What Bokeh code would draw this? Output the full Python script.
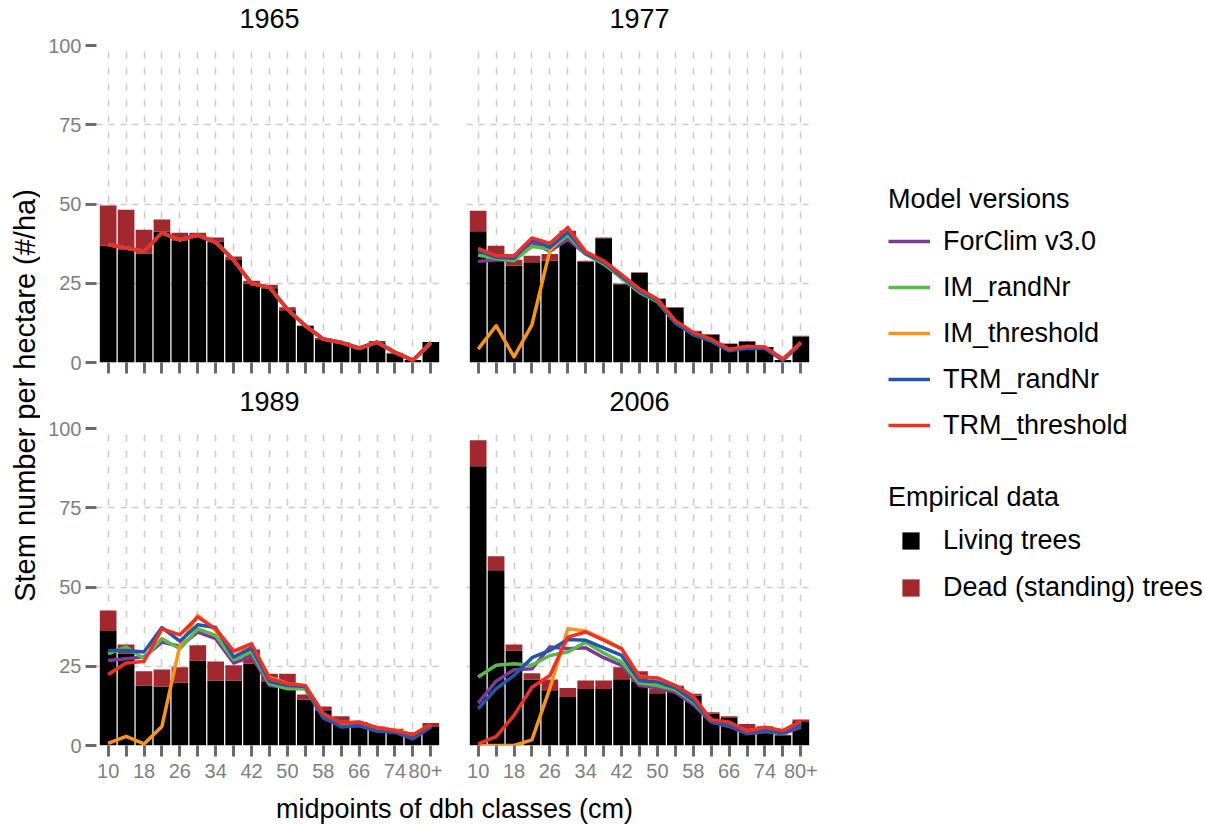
from math import pi

from bokeh.embed import file_html
from bokeh.layouts import column, row
from bokeh.models import (ColumnDataSource, FixedTicker, Label, Legend,
                          LegendItem, Range1d)
from bokeh.plotting import figure
from bokeh.resources import INLINE

FONT = "Liberation Sans"

# dbh classes (cm), every second one labelled on the axis
classes = ["10", "14", "18", "22", "26", "30", "34", "38", "42", "46",
           "50", "54", "58", "62", "66", "70", "74", "78", "80+"]
positions = list(range(len(classes)))
tick_labels = {i: c for i, c in enumerate(classes) if i % 2 == 0}

years = ["1965", "1977", "1989", "2006"]

# Empirical stem numbers (#/ha): living and dead (standing) trees
living_1965 = [36.8, 35.5, 34.4, 41.3, 38.6, 39.5, 38.2, 32.3, 24.9, 23.4,
               16.5, 11.5, 7.3, 6.2, 4.7, 6.4, 2.8, 0.8, 6.5]
dead_1965 = [12.7, 12.7, 7.5, 3.8, 2.3, 1.4, 1.2, 1.1, 0.9, 1.1,
             0.9, 0.2, 0.4, 0.3, 0.0, 0.4, 0.3, 0.0, 0.0]
living_1977 = [41.4, 33.5, 30.5, 31.6, 32.1, 39.5, 31.9, 39.2, 24.7, 28.3,
               20.0, 17.2, 9.8, 8.7, 5.8, 6.6, 4.9, 0.8, 8.2]
dead_1977 = [6.5, 3.3, 1.9, 2.1, 2.1, 2.1, 0.2, 0.2, 0.2, 0.2,
             0.2, 0.2, 0.2, 0.2, 0.2, 0.2, 0.0, 0.0, 0.2]
living_1989 = [36.1, 29.0, 18.9, 18.6, 19.9, 26.8, 20.5, 20.5, 25.8, 20.0,
               19.5, 14.4, 11.1, 7.9, 7.1, 5.3, 4.9, 3.2, 5.8]
dead_1989 = [6.5, 2.9, 4.5, 5.4, 4.8, 4.8, 6.0, 4.8, 4.5, 2.6,
             3.1, 1.7, 1.2, 1.3, 0.3, 0.7, 0.4, 1.0, 1.3]
living_2006 = [88.1, 55.3, 30.0, 20.8, 17.4, 15.3, 17.8, 17.8, 20.9, 20.0,
               16.5, 18.6, 15.8, 10.0, 8.7, 5.3, 5.6, 3.2, 7.4]
dead_2006 = [8.2, 4.4, 1.9, 2.0, 3.4, 2.8, 2.7, 2.7, 3.8, 3.4,
             1.4, 0.3, 0.5, 0.5, 0.5, 1.5, 0.5, 0.2, 0.8]

# Simulated stem numbers per model version
start_1965 = [37.2, 36.1, 35.1, 40.9, 38.7, 40.2, 37.9, 32.3, 24.9, 23.7,
              16.8, 11.6, 7.4, 6.3, 4.5, 6.4, 3.2, 0.7, 6.2]

forclim_1977 = [31.9, 32.3, 32.4, 37.9, 35.1, 38.9, 34.2, 31.1, 26.6, 22.4,
                19.3, 12.6, 8.9, 7.1, 4.0, 4.7, 4.7, 0.8, 6.1]
im_rand_1977 = [33.9, 32.8, 32.1, 36.6, 35.8, 40.2, 34.2, 31.1, 26.8, 22.1,
                19.2, 12.6, 8.9, 6.8, 3.9, 4.7, 4.7, 0.8, 6.1]
im_thr_1977 = [4.2, 11.6, 1.8, 11.9, 35.3, 41.6, 34.7, 31.9, 27.5, 23.0,
               19.8, 13.0, 9.2, 7.2, 4.0, 4.9, 4.8, 0.9, 6.2]
trm_rand_1977 = [35.3, 33.2, 32.9, 38.9, 36.3, 41.1, 34.4, 31.6, 27.2, 22.6,
                 19.5, 12.6, 8.7, 6.8, 3.7, 4.5, 4.4, 0.7, 6.0]
trm_thr_1977 = [36.0, 33.7, 33.7, 39.3, 37.6, 42.6, 34.9, 32.1, 27.7, 23.2,
                20.0, 13.2, 9.5, 7.4, 4.2, 5.1, 4.9, 1.1, 6.3]

forclim_1989 = [26.8, 27.4, 27.9, 32.6, 31.3, 35.8, 33.7, 26.0, 28.1, 18.9,
                18.4, 17.9, 8.7, 6.0, 6.3, 4.7, 4.2, 2.1, 5.8]
im_rand_1989 = [28.9, 31.1, 27.4, 33.7, 30.5, 36.8, 34.7, 27.1, 29.5, 19.5,
                17.9, 17.9, 9.5, 6.3, 6.6, 4.7, 4.4, 2.6, 6.3]
im_thr_1989 = [0.7, 2.9, 0.5, 6.0, 31.6, 41.1, 36.3, 29.5, 31.6, 21.5,
               19.6, 18.8, 10.0, 7.0, 7.3, 5.6, 4.9, 3.3, 6.5]
trm_rand_1989 = [30.0, 30.0, 29.5, 37.2, 32.9, 38.1, 37.2, 27.9, 30.8, 20.2,
                 18.9, 18.6, 9.2, 5.8, 6.3, 4.5, 4.2, 2.3, 6.0]
trm_thr_1989 = [22.4, 26.0, 26.5, 36.8, 34.9, 40.5, 36.8, 29.8, 32.1, 21.1,
                19.5, 18.9, 10.0, 7.1, 7.4, 5.6, 4.7, 3.4, 6.6]

forclim_2006 = [13.4, 20.3, 23.9, 24.2, 31.1, 30.5, 30.8, 27.7, 25.3, 18.9,
                18.2, 16.8, 12.9, 7.4, 6.0, 3.7, 4.4, 3.7, 5.8]
im_rand_2006 = [21.6, 25.3, 25.8, 25.3, 28.4, 29.5, 32.6, 29.2, 26.3, 19.7,
                18.9, 17.6, 13.7, 7.7, 6.8, 4.2, 4.7, 3.9, 6.8]
im_thr_2006 = [0.0, 0.0, 0.0, 1.8, 18.0, 36.8, 36.1, 33.6, 30.6, 21.8,
               21.0, 18.9, 15.0, 8.0, 7.2, 4.5, 5.6, 4.6, 7.5]
trm_rand_2006 = [11.6, 17.9, 22.1, 27.7, 30.0, 33.4, 33.2, 30.8, 28.4, 20.5,
                 20.0, 18.2, 14.2, 7.6, 6.3, 3.9, 4.7, 3.9, 6.6]
trm_thr_2006 = [0.5, 2.8, 9.5, 18.4, 22.1, 34.2, 35.8, 33.2, 30.5, 21.6,
                21.3, 18.9, 15.5, 8.1, 7.4, 4.5, 5.8, 4.7, 7.7]

model_names = ["ForClim v3.0", "IM_randNr", "IM_threshold", "TRM_randNr",
               "TRM_threshold"]
model_colors = ["#7B3A96", "#5DB84A", "#F7941D", "#2356A6", "#EE3027"]
empirical_names = ["Living trees", "Dead (standing) trees"]
LIVING_COLOR = "#000000"
DEAD_COLOR = "#A1282E"

living = {"1965": living_1965, "1977": living_1977,
          "1989": living_1989, "2006": living_2006}
dead = {"1965": dead_1965, "1977": dead_1977,
        "1989": dead_1989, "2006": dead_2006}
simulated = {
    "1965": [start_1965] * 5,
    "1977": [forclim_1977, im_rand_1977, im_thr_1977, trm_rand_1977, trm_thr_1977],
    "1989": [forclim_1989, im_rand_1989, im_thr_1989, trm_rand_1989, trm_thr_1989],
    "2006": [forclim_2006, im_rand_2006, im_thr_2006, trm_rand_2006, trm_thr_2006],
}

TICK_COLOR = "#6b6b6b"
LABEL_GREY = "#7f7f7f"
GRID_COLOR = "#cbcbcb"
y_ticks = [0, 25, 50, 75, 100]

# panel geometry (px)
FRAME_W, FRAME_H = 346, 317
LEFT_PAD, GAP, RIGHT_PAD = 56, 24, 18
TOP_PAD = 11
STRIP_H = 34


def style_ticks(axis, minor=True):
    axis.axis_line_color = None
    axis.major_tick_in = 0
    axis.major_tick_out = 11
    axis.major_tick_line_width = 3
    axis.major_tick_line_color = TICK_COLOR
    if minor:
        axis.minor_tick_in = 0
        axis.minor_tick_out = 11
        axis.minor_tick_line_width = 3
        axis.minor_tick_line_color = TICK_COLOR
    else:
        axis.minor_tick_line_color = None
    axis.major_label_text_font = FONT
    axis.major_label_text_font_size = "20px"
    axis.major_label_text_color = LABEL_GREY


def panel(year, left, bottom):
    p = figure(
        x_range=Range1d(-0.65, len(classes) - 0.35),
        y_range=Range1d(0, 100),
        frame_width=FRAME_W, frame_height=FRAME_H,
        min_border_left=LEFT_PAD if left else GAP,
        min_border_right=0 if left else RIGHT_PAD,
        min_border_top=TOP_PAD,
        min_border_bottom=45 if bottom else 21,
        output_backend="svg", toolbar_location=None,
    )
    p.outline_line_color = None
    p.background_fill_color = "white"
    p.border_fill_color = "white"

    # grid: one dashed line per dbh class and every 25 stems
    p.xgrid.ticker = FixedTicker(ticks=positions)
    p.xgrid.grid_line_color = GRID_COLOR
    p.xgrid.grid_line_width = 1.5
    p.xgrid.grid_line_dash = "7 9"
    p.ygrid.ticker = FixedTicker(ticks=y_ticks)
    p.ygrid.grid_line_color = GRID_COLOR
    p.ygrid.grid_line_width = 1.5
    p.ygrid.grid_line_dash = "6 6"

    # x axis: a tick per class, labels on every second class (bottom row only)
    xa = p.xaxis[0]
    style_ticks(xa)
    if bottom:
        xa.ticker = FixedTicker(ticks=positions[::2], minor_ticks=positions[1::2])
        xa.major_label_overrides = tick_labels
        xa.major_label_standoff = 7
    else:
        xa.ticker = FixedTicker(ticks=[], minor_ticks=positions)

    # y axis (left column only)
    ya = p.yaxis[0]
    if left:
        ya.ticker = FixedTicker(ticks=y_ticks)
        style_ticks(ya, minor=False)
        ya.major_label_standoff = 4
    else:
        ya.visible = False

    # stacked bars: living trees with dead (standing) trees on top
    src = ColumnDataSource(dict(x=positions, living=living[year], dead=dead[year]))
    p.vbar_stack(["living", "dead"], x="x", width=0.93, source=src,
                 fill_color=[LIVING_COLOR, DEAD_COLOR], line_color=None)

    # simulated distributions
    for series, color in zip(simulated[year], model_colors):
        p.line(x=positions, y=series, line_width=3.5, line_color=color,
               line_join="round")
    return p


def text_canvas(w, h):
    c = figure(width=w, height=h, x_range=Range1d(0, w), y_range=Range1d(0, h),
               x_axis_location=None, y_axis_location=None, min_border=0,
               output_backend="svg", toolbar_location=None)
    c.grid.visible = False
    c.outline_line_color = None
    return c


ROW_W = LEFT_PAD + FRAME_W + GAP + FRAME_W + RIGHT_PAD


def title_strip(left_title, right_title):
    s = text_canvas(ROW_W, STRIP_H)
    centers = [LEFT_PAD + FRAME_W / 2, LEFT_PAD + FRAME_W + GAP + FRAME_W / 2]
    for cx, txt in zip(centers, [left_title, right_title]):
        s.add_layout(Label(x=cx, y=16, text=txt, text_align="center",
                           text_baseline="middle", text_font=FONT,
                           text_font_size="27px", text_color="#000000"))
    return s


p65 = panel("1965", left=True, bottom=False)
p77 = panel("1977", left=False, bottom=False)
p89 = panel("1989", left=True, bottom=True)
p06 = panel("2006", left=False, bottom=True)

ylab = text_canvas(40, 825)
ylab.add_layout(Label(x=24, y=430, text="Stem number per hectare (#/ha)",
                      angle=pi / 2, text_align="center", text_baseline="middle",
                      text_font=FONT, text_font_size="29px",
                      text_color="#000000"))

xlab = text_canvas(ROW_W, 35)
xlab.add_layout(Label(x=LEFT_PAD + (2 * FRAME_W + GAP) / 2, y=17,
                      text="midpoints of dbh classes (cm)",
                      text_align="center", text_baseline="middle",
                      text_font=FONT, text_font_size="27px",
                      text_color="#000000"))

# legend canvas: key glyphs carry no drawable points
leg = text_canvas(375, 825)
nan = float("nan")
line_items = []
for name, color in zip(model_names, model_colors):
    r = leg.line(x=[nan, nan], y=[nan, nan], line_color=color, line_width=3.5)
    line_items.append(LegendItem(label=name, renderers=[r]))
bar_items = []
for name, color in zip(empirical_names, [LIVING_COLOR, DEAD_COLOR]):
    r = leg.scatter(x=[nan], y=[nan], marker="square", fill_color=color,
                    line_color=None)
    bar_items.append(LegendItem(label=name, renderers=[r]))

common = dict(padding=0, margin=0, border_line_color=None,
              background_fill_alpha=0, label_text_font=FONT,
              label_text_font_size="27px", label_text_color="#000000",
              title_text_font=FONT, title_text_font_size="27px",
              title_text_font_style="normal", title_text_color="#000000")
leg1 = Legend(items=line_items, title="Model versions", location=(58, 382),
              glyph_width=42, glyph_height=36, label_height=36,
              label_standoff=13, spacing=10, title_standoff=8, **common)
leg2 = Legend(items=bar_items, title="Empirical data", location=(58, 216),
              glyph_width=45, glyph_height=43, label_height=36,
              label_standoff=10, spacing=4, title_standoff=6, **common)
leg.add_layout(leg1)
leg.add_layout(leg2)

panels = column(title_strip("1965", "1977"), row(p65, p77),
                title_strip("1989", "2006"), row(p89, p06), xlab)
layout = row(ylab, panels, leg)

open("out.html", "w").write(file_html(layout, INLINE))
